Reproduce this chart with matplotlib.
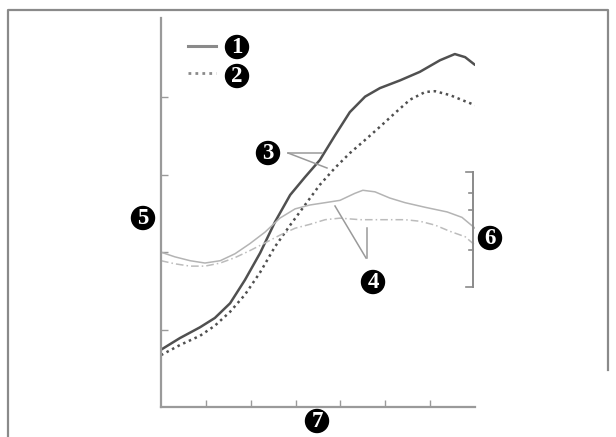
import matplotlib
matplotlib.use("Agg")
import matplotlib.pyplot as plt
from matplotlib.patches import Circle

# data (axis units: x 0..7, y 0..5)
x1 = [0, 0.42, 0.87, 1.20, 1.54, 1.87, 2.21, 2.54, 2.88, 3.21, 3.54, 3.88, 4.21, 4.55, 4.88, 5.33, 5.77, 6.22, 6.55, 6.78, 7.0]
y1 = [0.74, 0.89, 1.03, 1.15, 1.34, 1.64, 1.99, 2.39, 2.74, 2.97, 3.19, 3.51, 3.81, 4.01, 4.12, 4.22, 4.33, 4.48, 4.56, 4.52, 4.42]

x2 = [0, 0.42, 0.87, 1.20, 1.54, 1.87, 2.21, 2.54, 2.88, 3.21, 3.54, 3.88, 4.21, 4.55, 4.88, 5.22, 5.55, 5.89, 6.11, 6.44, 6.78, 7.0]
y2 = [0.67, 0.80, 0.92, 1.05, 1.23, 1.45, 1.74, 2.07, 2.35, 2.61, 2.87, 3.09, 3.28, 3.45, 3.62, 3.80, 3.97, 4.07, 4.08, 4.03, 3.95, 3.90]

x3 = [0, 0.31, 0.65, 0.98, 1.32, 1.65, 1.98, 2.32, 2.65, 2.99, 3.32, 3.66, 3.99, 4.32, 4.50, 4.77, 5.10, 5.44, 5.89, 6.38, 6.71, 7.0]
y3 = [2.00, 1.94, 1.89, 1.86, 1.89, 1.98, 2.11, 2.26, 2.44, 2.56, 2.61, 2.64, 2.67, 2.76, 2.80, 2.78, 2.70, 2.64, 2.58, 2.52, 2.45, 2.31]

x4 = [0, 0.31, 0.65, 0.98, 1.32, 1.65, 1.98, 2.32, 2.65, 2.99, 3.32, 3.66, 3.99, 4.44, 4.95, 5.44, 5.77, 6.11, 6.44, 6.78, 7.0]
y4 = [1.89, 1.85, 1.82, 1.82, 1.86, 1.93, 2.02, 2.12, 2.22, 2.31, 2.36, 2.42, 2.44, 2.42, 2.42, 2.42, 2.40, 2.35, 2.27, 2.20, 2.09]

labels = ["1", "2", "3", "4", "5", "6", "7"]
label_pos = [(237, 47), (237, 76), (268, 153), (373, 282), (143, 218), (490, 238), (317, 421)]

W, H = 616, 437
fig = plt.figure(figsize=(W / 100, H / 100), dpi=100)
fig.patch.set_facecolor("white")

# main plot area
L, R, T, B = 161, 475, 18, 407
ax = fig.add_axes([L / W, (H - B) / H, (R - L) / W, (B - T) / H])
ax.set_xlim(0, 7)
ax.set_ylim(0, (B - T) / 77.4)
ax.plot(x1, y1, color="#505050", lw=1.8, solid_capstyle="round", solid_joinstyle="round")
ax.plot(x2, y2, color="#505050", lw=1.8, linestyle=(0, (1, 1.5)))
ax.plot(x3, y3, color="#b4b4b4", lw=1.1, solid_joinstyle="round")
ax.plot(x4, y4, color="#bcbcbc", lw=1.1, linestyle=(0, (5, 2, 1, 2)))

for s in ["top", "right"]:
    ax.spines[s].set_visible(False)
for s in ["left", "bottom"]:
    ax.spines[s].set_color("#9a9a9a")
    ax.spines[s].set_linewidth(1.6)
ax.set_xticks([1, 2, 3, 4, 5, 6])
ax.set_yticks([1, 2, 3, 4])
ax.tick_params(direction="in", length=5, width=1, color="#9a9a9a",
               labelbottom=False, labelleft=False)
ax.patch.set_alpha(0)

# overlay in pixel coordinates
ov = fig.add_axes([0, 0, 1, 1])
ov.set_xlim(0, W)
ov.set_ylim(H, 0)
ov.axis("off")
ov.patch.set_alpha(0)

# outer frame
ov.plot([8, 8, 608, 608], [437, 10, 10, 370], color="#8a8a8a", lw=1.6)

# legend samples
ov.plot([188, 216], [46, 46], color="#8a8a8a", lw=2.2)
ov.plot([188, 216], [73, 73], color="#8a8a8a", lw=2.0, linestyle=(0, (1, 1.5)))

# right-hand scale
rx = 473
ov.plot([rx, rx], [172, 287], color="#8a8a8a", lw=1.4)
for ty, tl in [(172, 7), (193, 4), (210, 4), (250, 4), (287, 7)]:
    ov.plot([rx - tl, rx], [ty, ty], color="#8a8a8a", lw=1.2)

# leader lines
lc = "#9a9a9a"
ov.plot([288, 322], [153, 153], color=lc, lw=1.1)
ov.plot([288, 327], [153, 168], color=lc, lw=1.1)
ov.plot([335, 366], [206, 258], color=lc, lw=1.1)
ov.plot([367, 367], [228, 258], color=lc, lw=1.1)

# numbered callouts
for lab, (cx, cy) in zip(labels, label_pos):
    ov.add_patch(Circle((cx, cy), 11.5, color="black", zorder=5))
    ov.text(cx, cy + 0.5, lab, color="white", ha="center", va="center",
            fontsize=16.5, fontweight="bold", family="Liberation Serif", zorder=6)

fig.savefig("out.png", dpi=100)
